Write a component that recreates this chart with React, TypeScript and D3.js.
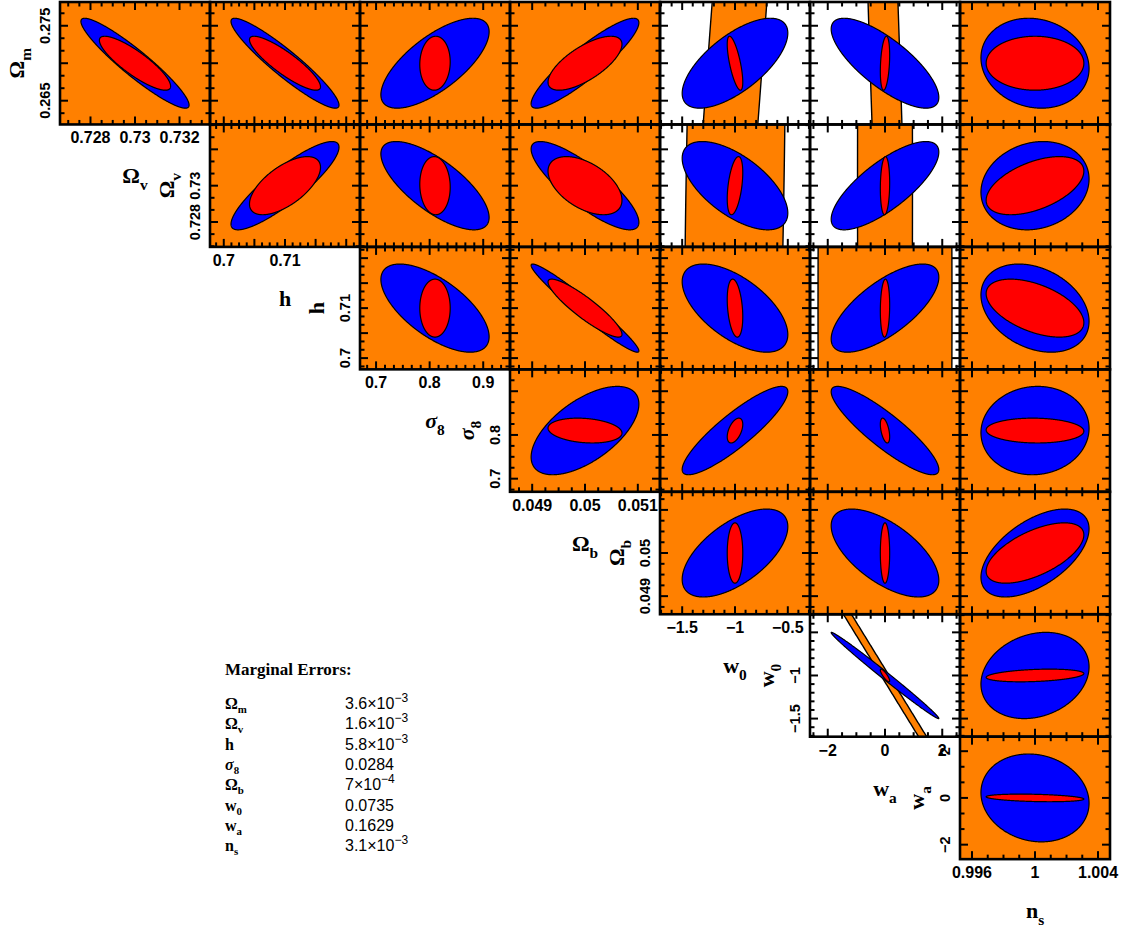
import React from "react";
import * as d3 from "d3";

// ---------- data ----------
const PARAM_SYMBOL = ["Ω", "Ω", "h", "σ", "Ω", "w", "w", "n"];
const PARAM_SUB = ["m", "v", "", "8", "b", "0", "a", "s"];
const FIDUCIAL = [0.27, 0.73, 0.71, 0.81, 0.05, -1, 0, 1];
const HALF_RANGE = [0.00817, 0.00337, 0.01225, 0.14, 0.00142, 0.71, 2.62, 0.00476];
const BLUE_SIGMA = [0.006, 0.00243, 0.00882, 0.101, 0.00102, 0.5, 1.88, 0.00343];
const RED_SIGMA = [0.0036, 0.0016, 0.0058, 0.0284, 0.0007, 0.0735, 0.1629, 0.0031];

const MARGINAL_MANTISSA = ["3.6×10", "1.6×10", "5.8×10", "0.0284", "7×10", "0.0735", "0.1629", "3.1×10"];
const MARGINAL_EXPONENT = ["−3", "−3", "−3", "", "−4", "", "", "−3"];

const X_MAJOR = [0.005, 0.002, 0.005, 0.1, 0.001, 0.5, 2, 0.004];
const X_MINOR_DIV = [3, 4, 4, 6, 4, 5, 4, 4];
const Y_MAJOR = [0.005, 0.002, 0.005, 0.1, 0.001, 0.5, 2, 0.004];
const Y_MINOR_DIV = [3, 3, 3, 4, 4, 5, 3, 4];

const X_LABELS: number[][] = [
  [],
  [0.728, 0.73, 0.732],
  [0.7, 0.71],
  [0.7, 0.8, 0.9],
  [0.049, 0.05, 0.051],
  [-1.5, -1, -0.5],
  [-2, 0, 2],
  [0.996, 1, 1.004],
];
const Y_LABELS: number[][] = [
  [0.265, 0.275],
  [0.728, 0.73],
  [0.7, 0.71],
  [0.7, 0.8],
  [0.049, 0.05],
  [-1.5, -1],
  [-2, 0, 2],
  [],
];

// correlation of the blue / red contours, row = y parameter, column = x parameter - 1
const BLUE_RHO: (number | null)[][] = [
  [-0.93, -0.93, 0.7, 0.9, 0.67, -0.76, -0.12],
  [null, 0.87, -0.72, -0.83, -0.62, 0.76, 0.15],
  [null, null, -0.65, -0.97, -0.6, 0.7, -0.3],
  [null, null, null, 0.6, 0.88, -0.88, 0.05],
  [null, null, null, null, 0.6, -0.62, 0.55],
  [null, null, null, null, null, -0.994, 0.2],
  [null, null, null, null, null, null, -0.12],
];
const RED_RHO: (number | null)[][] = [
  [-0.85, -0.87, 0.05, 0.7, -0.7, 0.3, 0.0],
  [null, 0.63, -0.05, -0.5, 0.45, 0.1, 0.5],
  [null, null, 0.0, -0.9, -0.3, 0.1, -0.5],
  [null, null, null, -0.2, 0.5, -0.5, -0.05],
  [null, null, null, null, 0.0, 0.0, 0.6],
  [null, null, null, null, null, -0.85, 0.3],
  [null, null, null, null, null, null, -0.3],
];

// orange constraint that does not fill the panel: [row, col, sx, sy, rho]
const ORANGE_BANDS: [number, number, number, number, number][] = [
  [0, 4, 0.584, 0.1, 0.896],
  [0, 5, 1.007, 0.1, -0.854],
  [1, 4, 0.484, 0.05, 0.287],
  [1, 5, 0.96, 0.05, 0],
  [2, 5, 2.34, 0.2, 0],
  [5, 5, 20, 10.8, -0.999975],
];

// ---------- layout ----------
const W = 1125;
const H = 932;
const LEFT = 60;
const TOP = 2;
const PW = 150;
const PH = 122.45;
const NGRID = 7;

const ORANGE = "#ff8000";
const BLUE = "#0000ff";
const RED = "#ff0000";

const SANS = "'Liberation Sans', Arial, sans-serif";
const SERIF = "'Liberation Serif', 'DejaVu Serif', serif";

function fmt(v: number) {
  return String(v).replace("-", "−");
}

function ellipsePath(
  xs: d3.ScaleLinear<number, number>,
  ys: d3.ScaleLinear<number, number>,
  cx: number,
  cy: number,
  sx: number,
  sy: number,
  rho: number,
  n: number
) {
  const k = Math.sqrt(Math.max(0, 1 - rho * rho));
  const pts = d3.range(n).map((i) => {
    const t = (2 * Math.PI * i) / n;
    return [cx + sx * Math.cos(t), cy + sy * (rho * Math.cos(t) + k * Math.sin(t))] as [number, number];
  });
  const line = d3
    .line<[number, number]>()
    .x((d) => xs(d[0]))
    .y((d) => ys(d[1]))
    .curve(d3.curveLinearClosed);
  return line(pts) || "";
}

function ticks(lo: number, hi: number, major: number, div: number) {
  const minor = major / div;
  const i0 = Math.ceil(lo / minor - 1e-6);
  const i1 = Math.floor(hi / minor + 1e-6);
  return d3.range(i0, i1 + 1).map((i) => ({ v: i * minor, major: ((i % div) + div) % div === 0 }));
}

function Name({ p, x, y, size, rotate = 0, anchor = "middle", subScale = 0.7, subDrop = 0.32 }: any) {
  return (
    <text
      transform={`translate(${x},${y}) rotate(${rotate})`}
      fontFamily={SERIF}
      fontWeight="bold"
      fontSize={size}
      textAnchor={anchor}
    >
      <tspan fontStyle={PARAM_SYMBOL[p] === "σ" ? "italic" : "normal"}>{PARAM_SYMBOL[p]}</tspan>
      {PARAM_SUB[p] ? (
        <tspan fontSize={size * subScale} dy={size * subDrop}>
          {PARAM_SUB[p]}
        </tspan>
      ) : null}
    </text>
  );
}

export default function App() {
  const panels: { r: number; c: number }[] = [];
  for (let r = 0; r < NGRID; r++) for (let c = r; c < NGRID; c++) panels.push({ r, c });

  const geo = panels.map(({ r, c }) => {
    const xp = c + 1;
    const yp = r;
    const x0 = LEFT + c * PW;
    const y0 = TOP + r * PH;
    const xs = d3
      .scaleLinear()
      .domain([FIDUCIAL[xp] - HALF_RANGE[xp], FIDUCIAL[xp] + HALF_RANGE[xp]])
      .range([x0, x0 + PW]);
    const ys = d3
      .scaleLinear()
      .domain([FIDUCIAL[yp] - HALF_RANGE[yp], FIDUCIAL[yp] + HALF_RANGE[yp]])
      .range([y0 + PH, y0]);
    return { r, c, xp, yp, x0, y0, xs, ys };
  });

  return (
    <svg
      width={W}
      height={H}
      style={{ position: "absolute", left: 0, top: 0, background: "#fff" }}
    >
      <defs>
        {geo.map(({ r, c, x0, y0 }) => (
          <clipPath id={`clip-${r}-${c}`} key={`cp-${r}-${c}`}>
            <rect x={x0} y={y0} width={PW} height={PH} />
          </clipPath>
        ))}
      </defs>

      {/* fills */}
      {geo.map(({ r, c, xp, yp, x0, y0, xs, ys }) => {
        const band = ORANGE_BANDS.find((b) => b[0] === r && b[1] === c);
        const br = BLUE_RHO[r][c] as number;
        const rr = RED_RHO[r][c] as number;
        return (
          <g key={`f-${r}-${c}`} clipPath={`url(#clip-${r}-${c})`}>
            <rect x={x0} y={y0} width={PW} height={PH} fill={band ? "#fff" : ORANGE} />
            {band ? (
              <path
                d={ellipsePath(xs, ys, FIDUCIAL[xp], FIDUCIAL[yp], band[2], band[3], band[4], 12000)}
                fill={ORANGE}
                stroke="#000"
                strokeWidth={1.4}
              />
            ) : null}
            <path
              d={ellipsePath(xs, ys, FIDUCIAL[xp], FIDUCIAL[yp], BLUE_SIGMA[xp], BLUE_SIGMA[yp], br, 720)}
              fill={BLUE}
              stroke="#000"
              strokeWidth={1.2}
            />
            <path
              d={ellipsePath(xs, ys, FIDUCIAL[xp], FIDUCIAL[yp], RED_SIGMA[xp], RED_SIGMA[yp], rr, 720)}
              fill={RED}
              stroke="#000"
              strokeWidth={1.2}
            />
          </g>
        );
      })}

      {/* frames and ticks */}
      {geo.map(({ r, c, xp, yp, x0, y0, xs, ys }) => {
        const xt = ticks(xs.domain()[0], xs.domain()[1], X_MAJOR[xp], X_MINOR_DIV[xp]);
        const yt = ticks(ys.domain()[0], ys.domain()[1], Y_MAJOR[yp], Y_MINOR_DIV[yp]);
        const big = 8;
        const small = 4.5;
        return (
          <g key={`a-${r}-${c}`} stroke="#000" strokeWidth={2}>
            {xt.map((t, i) => {
              const x = xs(t.v);
              const l = t.major ? big : small;
              return (
                <g key={`xt${i}`}>
                  <line x1={x} x2={x} y1={y0 + PH} y2={y0 + PH - l} />
                  <line x1={x} x2={x} y1={y0} y2={y0 + l} />
                </g>
              );
            })}
            {yt.map((t, i) => {
              const y = ys(t.v);
              const l = t.major ? big : small;
              return (
                <g key={`yt${i}`}>
                  <line x1={x0} x2={x0 + l} y1={y} y2={y} />
                  <line x1={x0 + PW} x2={x0 + PW - l} y1={y} y2={y} />
                </g>
              );
            })}
            <rect x={x0} y={y0} width={PW} height={PH} fill="none" strokeWidth={2.6} />
          </g>
        );
      })}

      {/* tick labels and axis names on the diagonal */}
      {geo
        .filter(({ r, c }) => r === c)
        .map(({ r, xp, yp, x0, y0, xs, ys }) => (
          <g key={`lab-${r}`}>
            {X_LABELS[xp].map((v, i) => (
              <text
                key={`xl${i}`}
                x={xs(v)}
                y={y0 + PH + 19}
                textAnchor="middle"
                fontFamily={SANS}
                fontWeight="bold"
                fontSize={16}
              >
                {fmt(v)}
              </text>
            ))}
            {Y_LABELS[yp].map((v, i) => (
              <text
                key={`yl${i}`}
                transform={`translate(${x0 - 10},${ys(v)}) rotate(-90)`}
                textAnchor="middle"
                fontFamily={SANS}
                fontWeight="bold"
                fontSize={14.5}
              >
                {fmt(v)}
              </text>
            ))}
            <Name p={xp} x={x0 + PW / 2} y={y0 + PH + 59} size={22} />
            <Name p={yp} x={x0 - 36} y={y0 + PH / 2} size={22} rotate={-90} />
          </g>
        ))}

      {/* marginal errors */}
      <g>
        <text x={225} y={675} fontFamily={SERIF} fontWeight="bold" fontSize={17}>
          Marginal Errors:
        </text>
        {PARAM_SYMBOL.map((_, i) => {
          const y = 709 + i * 20.3;
          return (
            <g key={`me${i}`}>
              <Name p={i} x={225} y={y} size={16} anchor="start" subScale={0.68} subDrop={0.25} />
              <text x={345} y={y} fontFamily={SANS} fontSize={16}>
                {MARGINAL_MANTISSA[i]}
                {MARGINAL_EXPONENT[i] ? (
                  <tspan fontSize={12} dy={-7}>
                    {MARGINAL_EXPONENT[i]}
                  </tspan>
                ) : null}
              </text>
            </g>
          );
        })}
      </g>
    </svg>
  );
}
